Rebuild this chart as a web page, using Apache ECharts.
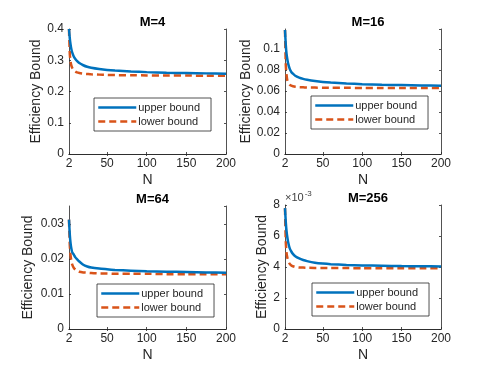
<!DOCTYPE html>
<html>
<head>
<meta charset="utf-8">
<script src="https://cdn.jsdelivr.net/npm/echarts@6/dist/echarts.min.js"></script>
<style>
  html, body { margin: 0; padding: 0; background: #fff; }
  #main { width: 491px; height: 373px; }
</style>
</head>
<body>
<div id="main"></div>
<script>
// N values (x axis)
var nVals = [2, 3, 4, 5, 6, 8, 10, 12, 15, 20, 25, 30, 40, 50, 60, 80, 100, 125, 150, 175, 200];

// M=4
var upper4 = [0.400, 0.370, 0.350, 0.335, 0.325, 0.312, 0.304, 0.298, 0.291, 0.284, 0.279, 0.276, 0.272, 0.269, 0.267, 0.264, 0.262, 0.260, 0.259, 0.258, 0.257];
var lower4 = [0.400, 0.320, 0.295, 0.283, 0.276, 0.268, 0.264, 0.261, 0.259, 0.257, 0.256, 0.255, 0.254, 0.253, 0.2525, 0.252, 0.2515, 0.251, 0.251, 0.2505, 0.2505];
// M=16
var upper16 = [0.118, 0.104, 0.095, 0.090, 0.086, 0.081, 0.078, 0.0765, 0.0745, 0.0727, 0.0715, 0.0707, 0.0695, 0.0686, 0.068, 0.0671, 0.0665, 0.066, 0.0656, 0.0652, 0.065];
var lower16 = [0.118, 0.085, 0.075, 0.070, 0.068, 0.066, 0.065, 0.0645, 0.064, 0.0636, 0.0635, 0.0633, 0.0632, 0.0631, 0.063, 0.063, 0.0629, 0.0629, 0.0628, 0.0628, 0.0628];
// M=64
var upper64 = [0.0313, 0.027, 0.0245, 0.023, 0.022, 0.0213, 0.0205, 0.020, 0.0193, 0.0184, 0.0179, 0.0176, 0.0173, 0.0171, 0.0169, 0.0167, 0.0165, 0.0164, 0.0163, 0.0162, 0.0161];
var lower64 = [0.0313, 0.024, 0.021, 0.0195, 0.0185, 0.0175, 0.017, 0.0167, 0.0164, 0.0162, 0.0161, 0.016, 0.0159, 0.0159, 0.0158, 0.0158, 0.0158, 0.0157, 0.0157, 0.0157, 0.0157];
// M=256
var upper256 = [0.0078, 0.0069, 0.0063, 0.0059, 0.0056, 0.0052, 0.0050, 0.00485, 0.0047, 0.00455, 0.00445, 0.00438, 0.00428, 0.00422, 0.00418, 0.00413, 0.0041, 0.00408, 0.00406, 0.00405, 0.00404];
var lower256 = [0.0078, 0.0056, 0.0049, 0.0046, 0.0044, 0.0042, 0.0041, 0.00405, 0.0040, 0.00397, 0.00396, 0.00395, 0.00394, 0.00394, 0.00393, 0.00393, 0.00392, 0.00392, 0.00392, 0.00392, 0.00392];

var xTickLabels = [2, 50, 100, 150, 200];
var titles = ['M=4', 'M=16', 'M=64', 'M=256'];

var BLUE = '#0072BD', ORANGE = '#D95319', INK = '#262626';
var FONT = 'Liberation Sans, Arial, sans-serif';

function pairs(ys) {
  return nVals.map(function (n, i) { return [n, ys[i]]; });
}

var panels = [
  { grid: { left: 69, top: 29, width: 157, height: 125 }, ymax: 0.4, step: 0.1, up: upper4, lo: lower4, nameGap: 25, leg: [94, 98] },
  { grid: { left: 285, top: 29, width: 156, height: 125 }, ymax: 0.119, step: 0.02, up: upper16, lo: lower16, nameGap: 32, leg: [311, 96] },
  { grid: { left: 69, top: 206, width: 157, height: 123 }, ymax: 0.0352, step: 0.01, up: upper64, lo: lower64, nameGap: 34, leg: [97, 284] },
  { grid: { left: 285, top: 205, width: 156, height: 124 }, ymax: 0.008, step: 0.002, up: upper256, lo: lower256, nameGap: 15, leg: [312, 283], scale1000: true }
];

var option = {
  animation: false,
  backgroundColor: '#fff',
  textStyle: { fontFamily: FONT },
  title: [], grid: [], xAxis: [], yAxis: [], series: [], legend: [],
  graphic: [{
    type: 'text', left: 285, top: 190,
    style: {
      text: '{a|×10}{b|-3}',
      rich: {
        a: { fontSize: 11, fill: '#404040', fontFamily: FONT },
        b: { fontSize: 8, fill: '#404040', fontFamily: FONT, verticalAlign: 'top', padding: [0, 0, 8, 1] }
      }
    }
  }]
};

panels.forEach(function (p, i) {
  var g = p.grid;
  option.grid.push({ left: g.left, top: g.top, width: g.width, height: g.height, show: false });
  option.title.push({
    text: titles[i], left: g.left + g.width / 2, top: g.top - 18, textAlign: 'center',
    textStyle: { fontSize: 13, fontWeight: 'bold', color: '#000', fontFamily: FONT }
  });
  // bottom x axis
  option.xAxis.push({
    gridIndex: i, type: 'value', min: 2, max: 200, position: 'bottom',
    name: 'N', nameLocation: 'middle', nameGap: 19,
    nameTextStyle: { fontSize: 14, color: INK, fontFamily: FONT },
    axisLine: { lineStyle: { color: INK, width: 0.8 } },
    axisTick: { inside: true, length: 2, customValues: xTickLabels, lineStyle: { color: INK, width: 0.8 } },
    axisLabel: { customValues: xTickLabels, fontSize: 12, color: INK, margin: 4, fontFamily: FONT },
    splitLine: { show: false }
  });
  // top mirror x axis
  option.xAxis.push({
    gridIndex: i, type: 'value', min: 2, max: 200, position: 'top',
    axisLine: { lineStyle: { color: INK, width: 0.8 } },
    axisTick: { inside: true, length: 2, customValues: [50, 100, 150], lineStyle: { color: INK, width: 0.8 } },
    axisLabel: { show: false }, splitLine: { show: false }
  });
  var fmt = p.scale1000
    ? function (v) { return String(Math.round(v * 1000)); }
    : function (v) { return String(+v.toFixed(4)); };
  var top = Math.abs(p.ymax / p.step - Math.round(p.ymax / p.step)) < 1e-6;
  option.yAxis.push({
    gridIndex: i, type: 'value', min: 0, max: p.ymax, interval: p.step, position: 'left',
    name: 'Efficiency Bound', nameLocation: 'middle', nameGap: p.nameGap,
    nameTextStyle: { fontSize: 14, color: INK, fontFamily: FONT },
    axisLine: { show: true, lineStyle: { color: INK, width: 0.8 } },
    axisTick: { show: true, inside: true, length: 2, lineStyle: { color: INK, width: 0.8 } },
    axisLabel: { fontSize: 12, color: INK, margin: 5, fontFamily: FONT, formatter: fmt, showMaxLabel: top },
    splitLine: { show: false }
  });
  option.yAxis.push({
    gridIndex: i, type: 'value', min: 0, max: p.ymax, interval: p.step, position: 'right',
    axisLine: { show: true, lineStyle: { color: INK, width: 0.8 } },
    axisTick: { show: true, inside: true, length: 2, lineStyle: { color: INK, width: 0.8 } },
    axisLabel: { show: false }, splitLine: { show: false }
  });
  option.series.push({
    name: 'upper bound', type: 'line', xAxisIndex: 2 * i, yAxisIndex: 2 * i,
    data: pairs(p.up), symbol: 'none', smooth: 0.2, z: 3,
    lineStyle: { color: BLUE, width: 2.5 }, itemStyle: { color: BLUE }
  });
  option.series.push({
    name: 'lower bound', type: 'line', xAxisIndex: 2 * i, yAxisIndex: 2 * i,
    data: pairs(p.lo), symbol: 'none', smooth: 0.2, z: 2,
    lineStyle: { color: ORANGE, width: 2.5, type: [7, 4] }, itemStyle: { color: ORANGE }
  });
  option.legend.push({
    data: ['upper bound', 'lower bound'], orient: 'vertical',
    left: p.leg[0], top: p.leg[1],
    itemWidth: 38, itemHeight: 12, itemGap: 3,
    padding: [4, 11, 4, 3],
    itemStyle: { opacity: 0 },
    lineStyle: { width: 2.5 },
    borderColor: INK, borderWidth: 0.8, borderRadius: 0, backgroundColor: '#fff',
    textStyle: { fontSize: 11, color: INK, fontFamily: FONT, padding: [0, 0, 0, -3] },
    selectedMode: false
  });
});

var chart = echarts.init(document.getElementById('main'), null, { renderer: 'canvas' });
chart.setOption(option);
</script>
</body>
</html>
